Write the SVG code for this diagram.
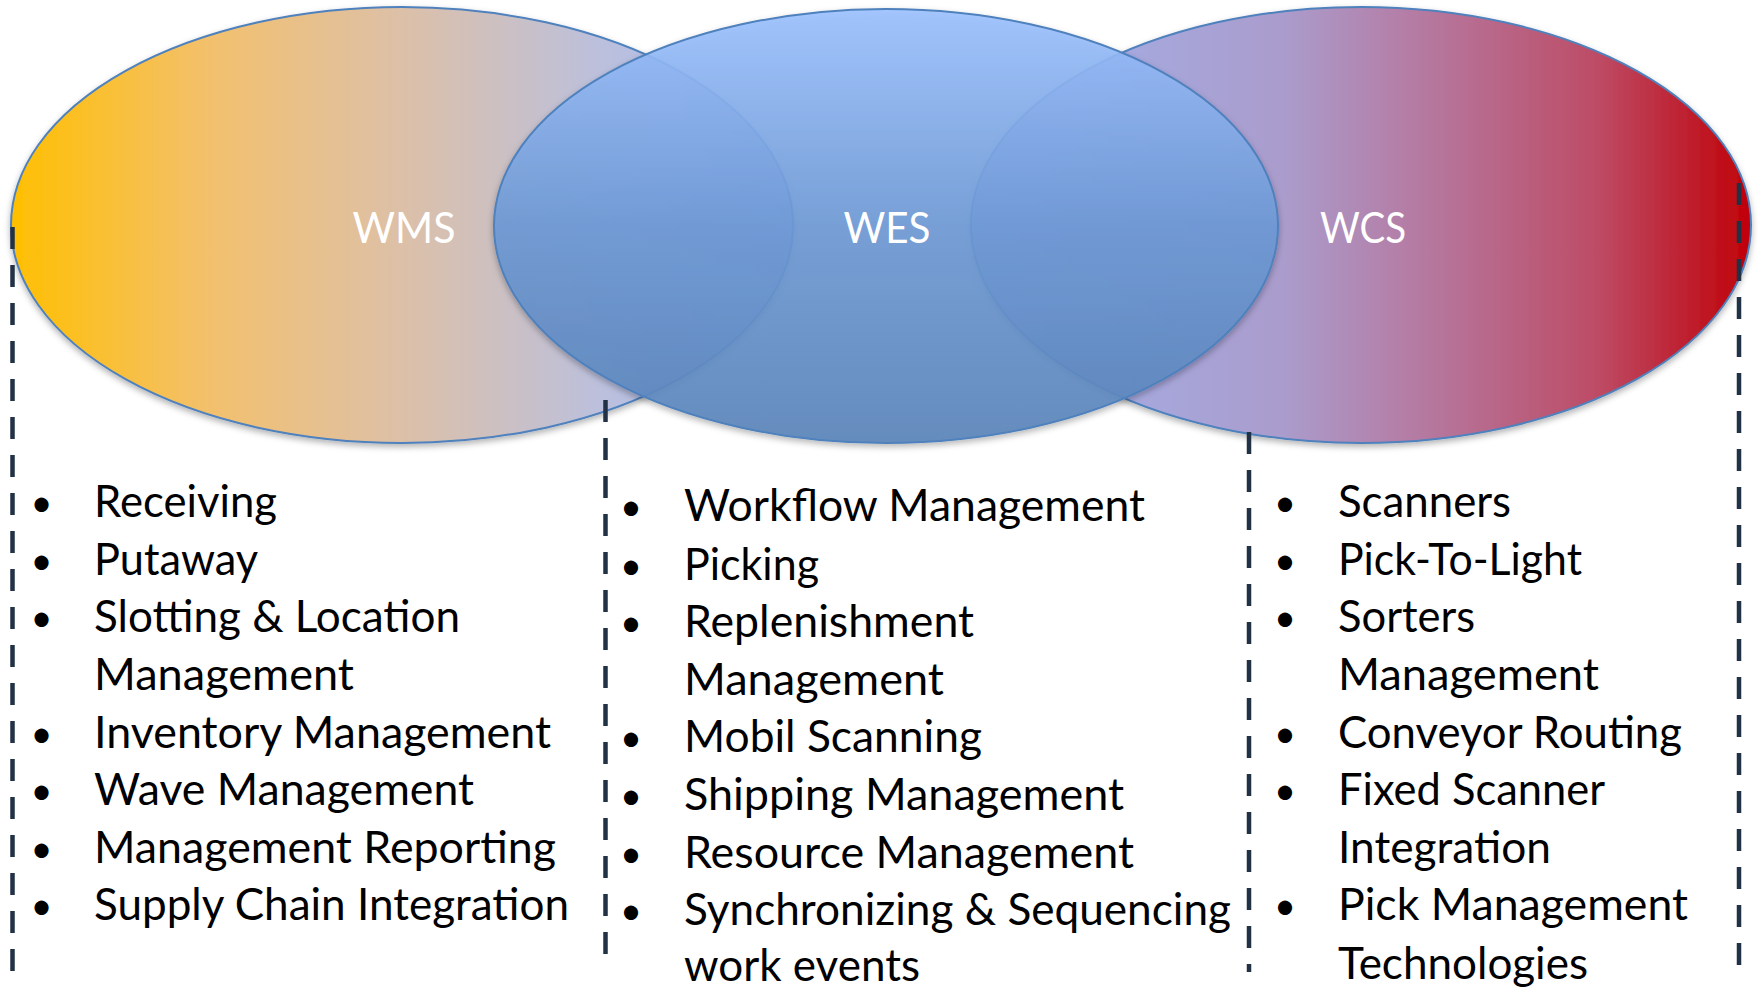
<svg xmlns="http://www.w3.org/2000/svg" width="1758" height="987" viewBox="0 0 1758 987">
<defs>
<linearGradient id="gWMS" gradientUnits="userSpaceOnUse" x1="11" y1="0" x2="794" y2="0">
<stop offset="0" stop-color="#ffbf00"/>
<stop offset="0.25" stop-color="#f3c06c"/>
<stop offset="0.5" stop-color="#dcc0a8"/>
<stop offset="0.75" stop-color="#bcc0dc"/>
<stop offset="1" stop-color="#a2b8f4"/>
</linearGradient>
<linearGradient id="gWCS" gradientUnits="userSpaceOnUse" x1="971" y1="0" x2="1752" y2="0">
<stop offset="0" stop-color="#a2b4f0"/>
<stop offset="0.4" stop-color="#aa9ccc"/>
<stop offset="0.55" stop-color="#b47fa8"/>
<stop offset="0.8" stop-color="#bd4c66"/>
<stop offset="1" stop-color="#c00008"/>
</linearGradient>
<linearGradient id="gWES" gradientUnits="userSpaceOnUse" x1="0" y1="9" x2="0" y2="443">
<stop offset="0" stop-color="#9cc1ff"/>
<stop offset="0.5" stop-color="#6e9ad6"/>
<stop offset="1" stop-color="#5a85ba"/>
</linearGradient>
<filter id="shadow" x="-5%" y="-5%" width="110%" height="115%">
<feDropShadow dx="0" dy="3" stdDeviation="3" flood-color="#000" flood-opacity="0.3"/>
</filter>
</defs>
<style>
.ell{stroke:#4f81bd;stroke-width:2}
.title{font-family:Lato,"Open Sans",sans-serif;font-size:43px;fill:#ffffff;text-anchor:middle}
.item{font-family:Lato,"Open Sans",sans-serif;font-size:44px;fill:#000000}
.bul{font-family:Lato,"Open Sans",sans-serif;font-size:38px;fill:#000000;text-anchor:middle}
.dash{stroke:#223246;stroke-width:4.5;stroke-dasharray:22 16;fill:none}
</style>

<g id="WMS">
<ellipse class="ell" cx="402" cy="225" rx="391" ry="218" fill="url(#gWMS)" filter="url(#shadow)"/>
<text class="title" x="404" y="243" textLength="103" lengthAdjust="spacingAndGlyphs">WMS</text>
</g>
<g id="WCS">
<ellipse class="ell" cx="1361" cy="225" rx="390" ry="218" fill="url(#gWCS)" filter="url(#shadow)"/>
<text class="title" x="1363" y="243" textLength="86" lengthAdjust="spacingAndGlyphs">WCS</text>
</g>
<g id="WES">
<ellipse class="ell" cx="886" cy="226" rx="392" ry="217" fill="url(#gWES)" fill-opacity="0.9" filter="url(#shadow)"/>
<text class="title" x="887" y="243" textLength="87" lengthAdjust="spacingAndGlyphs">WES</text>
</g>

<g id="dividers">
<line class="dash" x1="12.5" y1="227" x2="12.5" y2="976"/>
<line class="dash" x1="605.5" y1="400" x2="605.5" y2="957"/>
<line class="dash" x1="1249" y1="432" x2="1249" y2="972"/>
<line class="dash" x1="1739" y1="183" x2="1739" y2="976"/>
</g>

<g id="WMS-list">
<text class="bul" x="41.5" y="516">•</text>
<text class="item" x="94" y="517" textLength="183" lengthAdjust="spacingAndGlyphs">Receiving</text>
<text class="bul" x="41.5" y="574">•</text>
<text class="item" x="94" y="575" textLength="164" lengthAdjust="spacingAndGlyphs">Putaway</text>
<text class="bul" x="41.5" y="631">•</text>
<text class="item" x="94" y="632" textLength="366" lengthAdjust="spacingAndGlyphs">Slotting &amp; Location</text>
<text class="item" x="94" y="690" textLength="260" lengthAdjust="spacingAndGlyphs">Management</text>
<text class="bul" x="41.5" y="747">•</text>
<text class="item" x="94" y="748" textLength="457" lengthAdjust="spacingAndGlyphs">Inventory Management</text>
<text class="bul" x="41.5" y="804">•</text>
<text class="item" x="94" y="805" textLength="380" lengthAdjust="spacingAndGlyphs">Wave Management</text>
<text class="bul" x="41.5" y="862">•</text>
<text class="item" x="94" y="863" textLength="462" lengthAdjust="spacingAndGlyphs">Management Reporting</text>
<text class="bul" x="41.5" y="919">•</text>
<text class="item" x="94" y="920" textLength="475" lengthAdjust="spacingAndGlyphs">Supply Chain Integration</text>
</g>

<g id="WES-list">
<text class="bul" x="631" y="520">•</text>
<text class="item" x="684" y="521" textLength="461" lengthAdjust="spacingAndGlyphs">Workflow Management</text>
<text class="bul" x="631" y="579">•</text>
<text class="item" x="684" y="580" textLength="135" lengthAdjust="spacingAndGlyphs">Picking</text>
<text class="bul" x="631" y="636">•</text>
<text class="item" x="684" y="637" textLength="290" lengthAdjust="spacingAndGlyphs">Replenishment</text>
<text class="item" x="684" y="695" textLength="260" lengthAdjust="spacingAndGlyphs">Management</text>
<text class="bul" x="631" y="751">•</text>
<text class="item" x="684" y="752" textLength="298" lengthAdjust="spacingAndGlyphs">Mobil Scanning</text>
<text class="bul" x="631" y="809">•</text>
<text class="item" x="684" y="810" textLength="440" lengthAdjust="spacingAndGlyphs">Shipping Management</text>
<text class="bul" x="631" y="867">•</text>
<text class="item" x="684" y="868" textLength="450" lengthAdjust="spacingAndGlyphs">Resource Management</text>
<text class="bul" x="631" y="924">•</text>
<text class="item" x="684" y="925" textLength="547" lengthAdjust="spacingAndGlyphs">Synchronizing &amp; Sequencing</text>
<text class="item" x="684" y="981" textLength="236" lengthAdjust="spacingAndGlyphs">work events</text>
</g>

<g id="WCS-list">
<text class="bul" x="1285" y="516">•</text>
<text class="item" x="1338" y="517" textLength="173" lengthAdjust="spacingAndGlyphs">Scanners</text>
<text class="bul" x="1285" y="574">•</text>
<text class="item" x="1338" y="575" textLength="244" lengthAdjust="spacingAndGlyphs">Pick-To-Light</text>
<text class="bul" x="1285" y="631">•</text>
<text class="item" x="1338" y="632" textLength="137" lengthAdjust="spacingAndGlyphs">Sorters</text>
<text class="item" x="1338" y="690" textLength="261" lengthAdjust="spacingAndGlyphs">Management</text>
<text class="bul" x="1285" y="747">•</text>
<text class="item" x="1338" y="748" textLength="344" lengthAdjust="spacingAndGlyphs">Conveyor Routing</text>
<text class="bul" x="1285" y="804">•</text>
<text class="item" x="1338" y="805" textLength="267" lengthAdjust="spacingAndGlyphs">Fixed Scanner</text>
<text class="item" x="1338" y="863" textLength="213" lengthAdjust="spacingAndGlyphs">Integration</text>
<text class="bul" x="1285" y="919">•</text>
<text class="item" x="1338" y="920" textLength="350" lengthAdjust="spacingAndGlyphs">Pick Management</text>
<text class="item" x="1338" y="979" textLength="250" lengthAdjust="spacingAndGlyphs">Technologies</text>
</g>
</svg>
